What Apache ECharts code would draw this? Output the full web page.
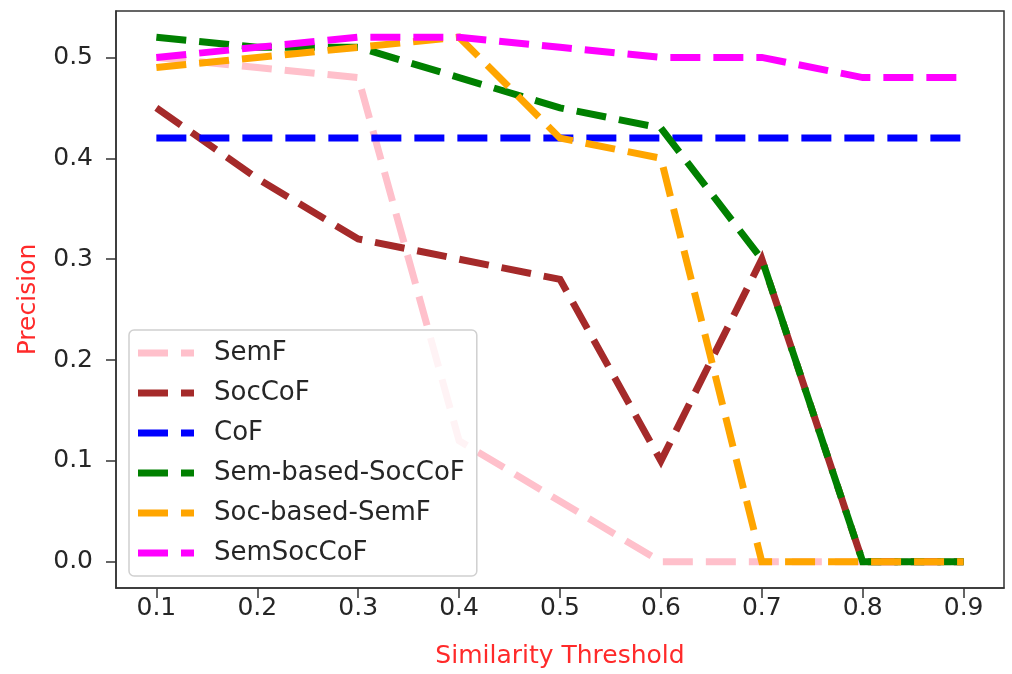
<!DOCTYPE html>
<html>
<head>
<meta charset="utf-8">
<script src="https://cdn.jsdelivr.net/npm/echarts@6/dist/echarts.min.js"></script>
<style>html,body{margin:0;padding:0;background:#fff}#c{width:1012px;height:674px}</style>
</head>
<body>
<div id="c"></div>
<script>
const thresholds = [0.1, 0.2, 0.3, 0.4, 0.5, 0.6, 0.7, 0.8, 0.9];
const semF = [0.50, 0.49, 0.48, 0.12, 0.06, 0.00, 0.00, 0.00, 0.00];
const socCoF = [0.45, 0.38, 0.32, 0.30, 0.28, 0.10, 0.30, 0.00, 0.00];
const coF = [0.42, 0.42, 0.42, 0.42, 0.42, 0.42, 0.42, 0.42, 0.42];
const semBasedSocCoF = [0.52, 0.51, 0.51, 0.48, 0.45, 0.43, 0.30, 0.00, 0.00];
const socBasedSemF = [0.49, 0.50, 0.51, 0.52, 0.42, 0.40, 0.00, 0.00, 0.00];
const semSocCoF = [0.50, 0.51, 0.52, 0.52, 0.51, 0.50, 0.50, 0.48, 0.48];
const xTicks = [0.1, 0.2, 0.3, 0.4, 0.5, 0.6, 0.7, 0.8, 0.9];
const yTicks = [0.0, 0.1, 0.2, 0.3, 0.4, 0.5];

const seriesDefs = [
  ['SemF', semF, '#FFC0CB'],
  ['SocCoF', socCoF, '#A52A2A'],
  ['CoF', coF, '#0000FF'],
  ['Sem-based-SocCoF', semBasedSocCoF, '#008000'],
  ['Soc-based-SemF', socBasedSemF, '#FFA500'],
  ['SemSocCoF', semSocCoF, '#FF00FF']
];

const FONT = 'DejaVu Sans';
const FS = 25;
const chart = echarts.init(document.getElementById('c'), null, {renderer: 'canvas'});
chart.setOption({
  animation: false,
  backgroundColor: '#fff',
  grid: {left: 116, right: 8, top: 11, bottom: 85, show: true, borderColor: '#333', borderWidth: 1.5, backgroundColor: 'transparent'},
  xAxis: {
    type: 'value', min: 0.06, max: 0.94,
    name: 'Similarity Threshold', nameLocation: 'middle', nameGap: 56,
    nameTextStyle: {color: '#ff2a2a', fontSize: FS, fontFamily: FONT},
    axisLine: {show: true, onZero: false, lineStyle: {color: '#333', width: 1.5}},
    axisTick: {show: true, length: 10, customValues: xTicks, lineStyle: {color: '#333', width: 1.5}},
    axisLabel: {customValues: xTicks, color: '#262626', fontSize: FS, fontFamily: FONT, margin: 8,
      formatter: v => v.toFixed(1)},
    splitLine: {show: false}
  },
  yAxis: {
    type: 'value', min: -0.026, max: 0.546,
    name: 'Precision', nameLocation: 'middle', nameGap: 75,
    nameTextStyle: {color: '#ff2a2a', fontSize: FS, fontFamily: FONT},
    axisLine: {show: true, onZero: false, lineStyle: {color: '#333', width: 1.5}},
    axisTick: {show: true, length: 10, customValues: yTicks, lineStyle: {color: '#333', width: 1.5}},
    axisLabel: {customValues: yTicks, color: '#262626', fontSize: FS, fontFamily: FONT, margin: 23,
      formatter: v => v.toFixed(1)},
    splitLine: {show: false}
  },
  legend: {
    orient: 'vertical', left: 129, top: 330,
    padding: [10, 12, 10, 9],
    backgroundColor: 'rgba(255,255,255,0.8)', borderColor: '#d0d0d0', borderWidth: 1.5, borderRadius: 5,
    icon: 'path://M0 0H30V7H0Z M43 0H56V7H43Z',
    itemWidth: 56, itemHeight: 7, itemGap: 14,
    textStyle: {color: '#262626', fontSize: 26, fontFamily: FONT, padding: [0, 0, 0, 15]},
    data: seriesDefs.map(d => d[0])
  },
  series: seriesDefs.map(([name, vals, color]) => ({
    name: name, type: 'line', symbol: 'none', showSymbol: false,
    data: thresholds.map((t, i) => [t, vals[i]]),
    color: color,
    itemStyle: {color: color},
    lineStyle: {color: color, width: 7, type: [30, 13], cap: 'butt', join: 'miter'},
    z: 2
  }))
});
</script>
</body>
</html>
